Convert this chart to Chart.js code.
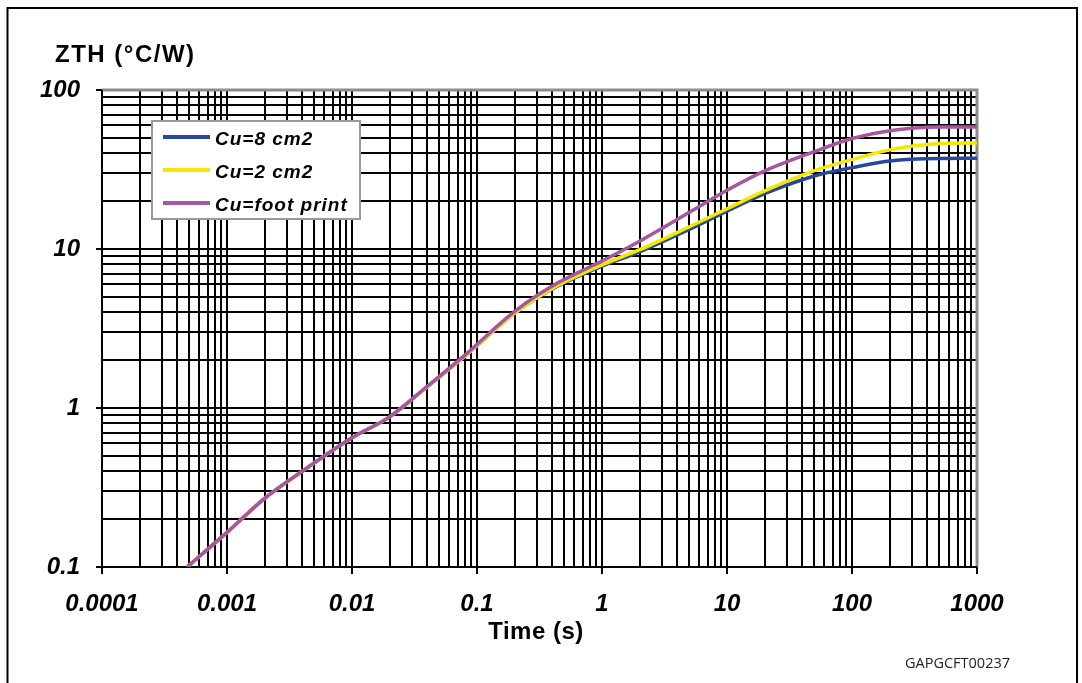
<!DOCTYPE html>
<html>
<head>
<meta charset="utf-8">
<script src="https://cdn.jsdelivr.net/npm/chart.js@4/dist/chart.umd.min.js"></script>
<style>
  html, body { margin: 0; padding: 0; background: #fff; }
  #wrap { position: relative; width: 1082px; height: 683px; }
</style>
</head>
<body>
<div id="wrap"><canvas id="zth" width="1082" height="683"></canvas></div>
<script>
// Thermal impedance vs time
const times = [0.00048, 0.001, 0.002, 0.004, 0.01, 0.02, 0.04, 0.08, 0.2, 0.4, 1, 2, 5, 10, 20, 50, 100, 200, 500, 1000];
const zthCu8 = [0.1, 0.165, 0.27, 0.4, 0.65, 0.88, 1.36, 2.12, 3.95, 5.6, 7.8, 9.6, 13.3, 17.3, 22.3, 28.8, 32.5, 35.8, 37.1, 37.2];
const zthCu2 = [0.1, 0.165, 0.27, 0.4, 0.65, 0.88, 1.36, 2.12, 3.95, 5.65, 7.95, 9.9, 13.8, 17.9, 23.2, 31.1, 36.5, 42, 46, 46.5];
const zthFoot = [0.1, 0.165, 0.27, 0.4, 0.65, 0.88, 1.37, 2.15, 4.05, 5.85, 8.4, 11.2, 17, 23.4, 31, 41, 49.5, 55.5, 58.5, 58.6];
const seriesLabels = ['Cu=8 cm2', 'Cu=2 cm2', 'Cu=foot print'];
const seriesColors = ['#27479a', '#f4e800', '#a8559f'];
const xTickLabels = ['0.0001', '0.001', '0.01', '0.1', '1', '10', '100', '1000'];
const yTickLabels = ['0.1', '1', '10', '100'];

const X_EXP = [-4, 3];
const Y_EXP = [-1, 2];
const FONT = '"Liberation Sans", Arial, sans-serif';

function isDecade(v) {
  const l = Math.log10(v);
  return Math.abs(l - Math.round(l)) < 1e-9;
}
// 1..9 x 10^n on every decade, so every minor line is drawn
function logTicks(exps) {
  const t = [];
  for (let e = exps[0]; e < exps[1]; e++) {
    for (let k = 1; k <= 9; k++) t.push({ value: Number((k * Math.pow(10, e)).toPrecision(6)) });
  }
  t.push({ value: Math.pow(10, exps[1]) });
  return t;
}
function decadeLabel(labels, exps) {
  return v => isDecade(v) ? labels[Math.round(Math.log10(v)) - exps[0]] : '';
}
const tickMarkColor = ctx => (ctx.tick && isDecade(ctx.tick.value)) ? '#000' : 'rgba(0,0,0,0)';

const pts = arr => times.map((t, i) => ({ x: t, y: arr[i] }));

const framePlugin = {
  id: 'frame',
  beforeDraw(chart) {
    const c = chart.ctx;
    c.save();
    c.fillStyle = '#fff';
    c.fillRect(0, 0, chart.width, chart.height);
    c.strokeStyle = '#000';
    c.lineWidth = 2;
    c.strokeRect(7.5, 8, 1069.5, 720);
    c.fillStyle = '#000';
    c.font = 'bold 24px ' + FONT;
    c.letterSpacing = '1.5px';
    c.textAlign = 'left';
    c.textBaseline = 'alphabetic';
    c.fillText('ZTH (°C/W)', 55, 62);
    c.letterSpacing = '0.5px';
    c.textAlign = 'center';
    c.fillText('Time (s)', 536, 639);
    c.letterSpacing = '0px';
    c.font = '14.5px "Open Sans", sans-serif';
    c.fillStyle = '#222';
    c.textAlign = 'left';
    c.fillText('GAPGCFT00237', 905, 668);
    c.restore();
  },
  beforeDatasetsDraw(chart) {
    const a = chart.chartArea, c = chart.ctx;
    c.save();
    c.lineWidth = 3;
    c.strokeStyle = '#8c8c8c';
    c.beginPath();
    c.moveTo(a.left, a.top);
    c.lineTo(a.right, a.top);
    c.lineTo(a.right, a.bottom);
    c.stroke();
    c.lineWidth = 2;
    c.strokeStyle = '#000';
    c.beginPath();
    c.moveTo(a.left, a.top);
    c.lineTo(a.left, a.bottom);
    c.lineTo(a.right, a.bottom);
    c.stroke();
    c.restore();
  },
  afterDatasetsDraw(chart) {
    const c = chart.ctx;
    c.save();
    c.fillStyle = '#fff';
    c.fillRect(152, 121, 208, 98);
    c.strokeStyle = '#999';
    c.lineWidth = 2;
    c.strokeRect(152, 121, 208, 98);
    c.font = 'bold italic 19px ' + FONT;
    c.letterSpacing = '1px';
    c.textBaseline = 'alphabetic';
    c.fillStyle = '#000';
    const rows = [137, 170, 203];
    seriesLabels.forEach((lab, i) => {
      c.strokeStyle = seriesColors[i];
      c.lineWidth = 4;
      c.beginPath();
      c.moveTo(163, rows[i]);
      c.lineTo(210, rows[i]);
      c.stroke();
      c.fillText(lab, 215, rows[i] + 8);
    });
    c.restore();
  }
};

const ctx = document.getElementById('zth').getContext('2d');
new Chart(ctx, {
  type: 'line',
  data: {
    datasets: [
      { label: seriesLabels[0], data: pts(zthCu8), borderColor: seriesColors[0], order: 3 },
      { label: seriesLabels[1], data: pts(zthCu2), borderColor: seriesColors[1], order: 2 },
      { label: seriesLabels[2], data: pts(zthFoot), borderColor: seriesColors[2], order: 1 }
    ]
  },
  options: {
    responsive: false,
    animation: false,
    devicePixelRatio: 1,
    layout: { padding: { left: 0, top: 90, right: 105, bottom: 0 } },
    elements: {
      line: { borderWidth: 3.5, cubicInterpolationMode: 'monotone', fill: false },
      point: { radius: 0 }
    },
    plugins: { legend: { display: false }, tooltip: { enabled: false } },
    scales: {
      x: {
        type: 'logarithmic',
        min: 0.0001,
        max: 1000,
        afterBuildTicks: s => { s.ticks = logTicks(X_EXP); },
        afterFit: s => { s.height = 116; },
        border: { display: false },
        grid: { color: '#000', lineWidth: 2, tickLength: 7, tickColor: tickMarkColor, tickWidth: 2 },
        ticks: {
          autoSkip: false, maxRotation: 0, minRotation: 0, padding: 16, color: '#000',
          font: { family: FONT, size: 24, style: 'italic', weight: 'bold' },
          callback: decadeLabel(xTickLabels, X_EXP)
        }
      },
      y: {
        type: 'logarithmic',
        min: 0.1,
        max: 100,
        afterBuildTicks: s => { s.ticks = logTicks(Y_EXP); },
        afterFit: s => { s.width = 102; },
        border: { display: false },
        grid: { color: '#000', lineWidth: 2, tickLength: 6, tickColor: tickMarkColor, tickWidth: 2 },
        ticks: {
          autoSkip: false, padding: 16, color: '#000',
          font: { family: FONT, size: 24, style: 'italic', weight: 'bold' },
          callback: decadeLabel(yTickLabels, Y_EXP)
        }
      }
    }
  },
  plugins: [framePlugin]
});
</script>
</body>
</html>
